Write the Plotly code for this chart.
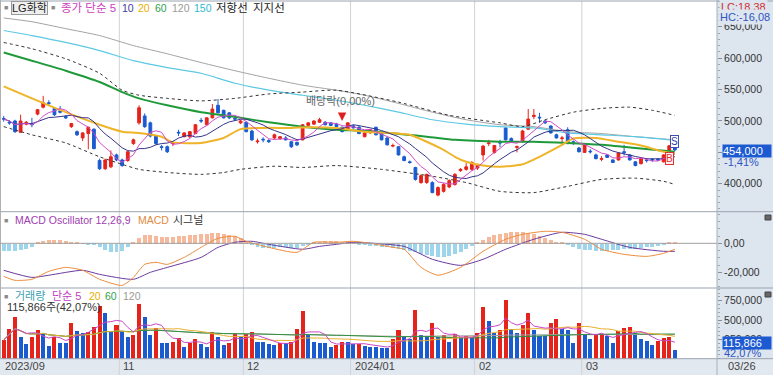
import plotly.graph_objects as go
import pandas as pd

# ---------------- data (prices in thousands of KRW, volumes in thousands of shares) ----------------
dates = [
    "2023-09-26", "2023-09-27", "2023-10-04", "2023-10-05", "2023-10-06", "2023-10-10", "2023-10-11",
    "2023-10-12", "2023-10-13", "2023-10-16", "2023-10-17", "2023-10-18", "2023-10-19", "2023-10-20",
    "2023-10-23", "2023-10-24", "2023-10-25", "2023-10-26", "2023-10-27", "2023-10-30", "2023-10-31",
    "2023-11-01", "2023-11-02", "2023-11-03", "2023-11-06", "2023-11-07", "2023-11-08", "2023-11-09",
    "2023-11-10", "2023-11-13", "2023-11-14", "2023-11-15", "2023-11-16", "2023-11-17", "2023-11-20",
    "2023-11-21", "2023-11-22", "2023-11-23", "2023-11-24", "2023-11-27", "2023-11-28", "2023-11-29",
    "2023-11-30", "2023-12-01", "2023-12-04", "2023-12-05", "2023-12-06", "2023-12-07", "2023-12-08",
    "2023-12-11", "2023-12-12", "2023-12-13", "2023-12-14", "2023-12-15", "2023-12-18", "2023-12-19",
    "2023-12-20", "2023-12-21", "2023-12-22", "2023-12-26", "2023-12-27", "2023-12-28", "2024-01-02",
    "2024-01-03", "2024-01-04", "2024-01-05", "2024-01-08", "2024-01-09", "2024-01-10", "2024-01-11",
    "2024-01-12", "2024-01-15", "2024-01-16", "2024-01-17", "2024-01-18", "2024-01-19", "2024-01-22",
    "2024-01-23", "2024-01-24", "2024-01-25", "2024-01-26", "2024-01-29", "2024-01-30", "2024-01-31",
    "2024-02-01", "2024-02-02", "2024-02-05", "2024-02-06", "2024-02-07", "2024-02-08", "2024-02-13",
    "2024-02-14", "2024-02-15", "2024-02-16", "2024-02-19", "2024-02-20", "2024-02-21", "2024-02-22",
    "2024-02-23", "2024-02-26", "2024-02-27", "2024-02-28", "2024-02-29", "2024-03-04", "2024-03-05",
    "2024-03-06", "2024-03-07", "2024-03-08", "2024-03-11", "2024-03-12", "2024-03-13", "2024-03-14",
    "2024-03-15", "2024-03-18", "2024-03-19", "2024-03-20", "2024-03-21", "2024-03-22", "2024-03-25",
    "2024-03-26",
]

opens = [504, 498, 500, 482, 495, 496, 511, 522, 529, 520, 516, 507, 491, 483, 473, 480, 487, 437, 424, 427, 446,
         438, 437, 464, 497, 508, 497, 476, 459, 459, 464, 482, 475, 475, 480, 501, 494, 505, 525, 517, 513, 504, 497,
         498, 484, 467, 471, 469, 473, 472, 473, 467, 466, 470, 493, 495, 498, 498, 497, 495, 490, 487,
         492, 490, 475, 481, 490, 483, 473, 460, 459, 443, 435, 426, 402, 402, 402, 382, 388, 395, 399, 421, 423, 423,
         425, 446, 464, 450, 466, 489, 472, 458, 467, 487, 507, 506, 500, 492, 478, 472, 486, 467, 457,
         450, 452, 446, 439, 446, 438, 438, 451, 446, 435, 432, 438, 439, 439, 435, 452, 457]
highs = [508, 501, 502, 510, 500, 505, 519, 540, 533, 522, 524, 509, 497, 485, 482, 491, 488, 440, 440, 453, 448,
         440, 452, 472, 525, 512, 499, 478, 462, 461, 468, 486, 482, 484, 495, 505, 506, 527, 535, 518, 514, 508, 502,
         499, 486, 472, 474, 471, 480, 476, 476, 468, 467, 495, 498, 501, 505, 500, 498, 497, 491, 498,
         494, 492, 483, 487, 491, 484, 474, 464, 460, 445, 437, 427, 415, 416, 404, 396, 401, 407, 417, 425, 433, 436,
         432, 462, 470, 462, 470, 490, 474, 461, 486, 519, 519, 513, 502, 493, 480, 476, 490, 469, 459,
         463, 455, 448, 444, 447, 439, 450, 462, 447, 436, 441, 441, 441, 441, 447, 462, 459]
lows = [499, 494, 481, 481, 493, 490, 509, 520, 524, 508, 512, 503, 489, 476, 468, 455, 455, 422, 422, 425, 436,
        427, 435, 462, 494, 489, 474, 462, 453, 449, 460, 476, 474, 473, 479, 497, 493, 504, 512, 504, 503, 500, 495,
        482, 468, 464, 466, 465, 471, 470, 469, 457, 460, 469, 492, 494, 497, 493, 492, 490, 482, 486,
        488, 479, 474, 480, 477, 469, 461, 458, 445, 436, 432, 405, 400, 400, 385, 380, 386, 393, 397, 419, 421, 421,
        422, 437, 460, 448, 458, 469, 467, 450, 466, 486, 503, 497, 495, 480, 472, 465, 463, 462, 450,
        449, 448, 439, 436, 441, 433, 437, 445, 437, 428, 431, 434, 435, 436, 434, 450, 452]
closes = [503, 497, 483, 500, 498, 494, 518, 529, 528, 510, 514, 505, 496, 478, 481, 490, 456, 424, 438, 443, 438,
          429, 451, 470, 521, 491, 476, 464, 458, 451, 465, 481, 481, 483, 494, 500, 505, 519, 513, 505, 505, 503, 500,
          483, 470, 468, 470, 467, 478, 475, 470, 459, 462, 494, 497, 500, 502, 494, 493, 491, 483, 497,
          489, 480, 481, 486, 478, 470, 462, 461, 446, 437, 434, 407, 413, 415, 386, 394, 399, 405, 415, 423, 427, 434,
          430, 460, 465, 461, 465, 470, 468, 459, 484, 503, 509, 505, 497, 481, 473, 473, 464, 464, 451,
          462, 451, 440, 440, 442, 434, 449, 450, 438, 429, 440, 437, 438, 438, 446, 460.5, 454]
volumes = [242, 385, 536, 285, 187, 285, 372, 329, 165, 277, 207, 199, 466, 359, 329, 350, 406, 683, 596, 363, 436,
           350, 285, 307, 708, 544, 307, 394, 207, 203, 220, 272, 155, 207, 251, 187, 155, 350, 285, 177, 207, 337, 277,
           316, 350, 220, 218, 187, 174, 207, 203, 220, 381, 622, 307, 220, 207, 203, 148, 174, 216, 212,
           187, 190, 165, 155, 148, 145, 142, 251, 372, 277, 251, 631, 307, 294, 466, 285, 307, 220, 320, 277, 294, 277,
           329, 674, 492, 329, 372, 760, 381, 337, 436, 588, 372, 294, 290, 459, 510, 381, 372, 207, 459,
           316, 251, 307, 320, 300, 199, 363, 394, 414, 337, 251, 233, 177, 233, 262, 275, 115.866]

# long moving averages / envelope lines (trading-day number -> value, thousands)
ma20_day = [0, 5, 11, 17, 21, 24, 28, 30, 35, 39, 42, 46, 51, 54, 59, 64, 70, 72, 75, 78, 80, 82, 85, 88, 92, 95, 99, 101, 105, 109, 113, 117, 119]
ma20_val = [555, 536, 514, 494, 483, 481, 475, 466, 465, 473, 487, 489, 489, 490, 489, 483, 480, 478, 467, 454, 443, 435, 429, 427, 431, 443, 462, 472, 473, 467, 461, 451, 448]
ma60_day = [0, 5, 11, 17, 21, 24, 29, 35, 39, 42, 47, 53, 59, 64, 75, 80, 88, 94, 100, 106, 112, 119]
ma60_val = [609, 596, 580, 562, 546, 536, 525, 514, 509, 505, 498, 491, 486, 484, 475, 470, 467, 467, 465, 462, 457, 451]
ma120_day = [0, 5, 11, 17, 23, 29, 35, 41, 47, 53, 59, 64, 70, 76, 82, 88, 94, 100, 106, 112, 119]
ma120_val = [664, 658, 647, 636, 620, 607, 593, 580, 568, 557, 549, 541, 528, 514, 502, 494, 491, 483, 480, 475, 470]
ma150_day = [0, 5, 11, 17, 23, 29, 35, 41, 47, 53, 59, 64, 70, 76, 82, 88, 94, 100, 106, 112, 119]
ma150_val = [644, 636, 625, 612, 596, 585, 576, 560, 549, 541, 533, 525, 514, 502, 495, 491, 489, 481, 478, 475, 469]
resist_day = [0, 5, 11, 17, 21, 24, 29, 35, 41, 47, 53, 59, 70, 79, 88, 92, 96, 101, 106, 111, 115, 119]
resist_val = [625, 615, 599, 576, 549, 541, 536, 532, 536, 543, 546, 549, 530, 509, 497, 491, 502, 514, 520, 522, 517, 509]
support_day = [0, 5, 11, 17, 21, 24, 29, 35, 39, 42, 48, 53, 59, 67, 76, 82, 88, 94, 100, 106, 112, 117, 119]
support_val = [491, 478, 465, 443, 431, 423, 418, 415, 418, 423, 428, 426, 429, 423, 412, 402, 388, 386, 396, 407, 409, 404, 399]

# MACD (thousands)
macd_day = [0, 2, 5, 8, 11, 14, 17, 21, 23, 25, 27, 29, 32, 35, 38, 41, 43, 47, 52, 55, 59, 62, 65, 69, 71, 74, 77, 81, 85, 89, 92, 96, 99, 103, 106, 110, 114, 117, 119]
macd_val = [-22.8, -25.5, -24.8, -19.3, -16.6, -18.6, -24.8, -29.0, -23.5, -14.5, -13.1, -14.5, -9.7, -2.8, 3.5, 4.8, 1.4, -2.8, -6.2, 0.7, 0.7, 1.4, 0.0, -2.8, -4.1, -16.6, -22.0, -16.6, -5.5, 2.8, 6.2, 8.3, 7.6, 2.8, -4.1, -7.6, -9.0, -6.9, -4.1]
signal_day = [0, 5, 8, 14, 17, 23, 26, 29, 35, 38, 41, 44, 47, 53, 56, 59, 62, 68, 71, 76, 81, 85, 89, 94, 99, 103, 106, 111, 117, 119]
signal_val = [-18.6, -23.5, -22.0, -18.6, -21.4, -24.8, -20.0, -16.6, -9.7, -2.8, 0.7, 1.4, -0.7, -4.1, -2.1, -0.7, 0.7, -0.7, -2.1, -11.0, -15.2, -11.0, -4.1, 2.8, 7.6, 6.2, 2.8, -2.8, -5.5, -5.5]
oscillator = [-4.8, -4.8, -4.8, -4.1, -3.4, -2.1,
              0.7, 2.1, 2.8, 2.8, 2.8, 2.1, 1.4, 0.7,
              0.3, -0.3, -0.7,
              -2.1, -4.1, -5.5, -5.5, -4.8, -2.1,
              0.7, 4.1, 6.2, 6.2, 5.5, 4.8, 4.8, 4.8, 5.5, 5.5, 6.2, 6.2, 6.9, 6.9,
              7.6, 7.6, 6.9, 6.2, 5.5, 4.1, 2.1,
              -0.7, -2.1, -2.8, -2.8, -2.8, -2.1, -2.1, -2.8, -2.8, -1.4, -0.7,
              0.7, 1.4, 2.1, 2.1, 2.1, 1.4, 1.4, 0.7,
              -0.7, -0.7, -1.4, -1.4, -2.1, -2.1, -2.8, -3.4,
              -4.1, -4.8, -5.5, -6.9, -7.6, -8.3, -9.0, -9.0, -8.3, -6.9, -5.5, -3.4,
              -1.4, 0.7, 2.8, 4.8, 6.2, 6.9, 7.6, 8.3, 8.3, 8.3, 7.6, 6.9, 5.5, 4.1, 2.8, 1.4, 0.7,
              -0.7, -2.1, -3.4, -4.1, -4.1, -4.8, -4.8, -4.8, -4.1, -4.1, -3.4, -3.4, -3.4, -2.8, -2.1, -2.1, -1.4, -0.7,
              0.7, 1.4]

month_starts = ["2023-11-01", "2023-12-01", "2024-01-02", "2024-02-01", "2024-03-04"]
month_labels = ["2023/09", "11", "12", "2024/01", "02", "03"]

# ---------------- derived ----------------
K = 1000
n = len(dates)
xi = list(range(n))
close_s = pd.Series(closes) * K
vol_s = pd.Series(volumes) * K
ma5 = close_s.rolling(5, min_periods=1).mean()
ma10 = close_s.rolling(10, min_periods=1).mean()
vma5 = vol_s.rolling(5, min_periods=1).mean()
vma20 = vol_s.rolling(20, min_periods=1).mean()
vma60 = vol_s.rolling(60, min_periods=1).mean()
vma120 = vol_s.rolling(120, min_periods=1).mean()

RED = "#e5231b"
BLUE = "#1a5bd0"
W, H = 773, 375
PLOT_R = 717
def pxx(x): return x / W
def pyy(y): return 1 - y / H

Y_MAIN = (211.7, 1.0)
Y_MACD = (288.0, 211.7)
Y_VOL = (358.7, 288.0)
FONT = "Liberation Sans, Noto Sans CJK KR, sans-serif"

fig = go.Figure()

def line(days, vals, color, width, dash=None, axis="y"):
    fig.add_trace(go.Scatter(x=days, y=[v * K for v in vals], mode="lines",
                             line=dict(color=color, width=width, dash=dash, shape="spline", smoothing=0.6),
                             hoverinfo="skip", xaxis="x" if axis == "y" else "x" + axis[1:], yaxis=axis))

# envelope & long MAs
line(ma120_day, ma120_val, "#a3a3a3", 1)
line(ma150_day, ma150_val, "#5cc9e2", 1.2)
line(resist_day, resist_val, "#333333", 1, dash="3px,3px")
line(support_day, support_val, "#333333", 1, dash="3px,3px")
line(ma60_day, ma60_val, "#1f9a3a", 2)
line(ma20_day, ma20_val, "#f0b428", 2)
fig.add_trace(go.Scatter(x=xi, y=ma10, mode="lines", line=dict(color="#343488", width=1),
                         hoverinfo="skip", xaxis="x", yaxis="y"))
fig.add_trace(go.Scatter(x=xi, y=ma5, mode="lines", line=dict(color="#d04cc8", width=1),
                         hoverinfo="skip", xaxis="x", yaxis="y"))

fig.add_trace(go.Candlestick(
    x=xi, open=[v * K for v in opens], high=[v * K for v in highs], low=[v * K for v in lows],
    close=[v * K for v in closes],
    increasing=dict(line=dict(color=RED, width=1), fillcolor=RED),
    decreasing=dict(line=dict(color=BLUE, width=1), fillcolor=BLUE),
    whiskerwidth=0, hoverinfo="skip", xaxis="x", yaxis="y"))

# MACD panel
osc_colors = ["#f6b99c" if v >= 0 else "#9dd5ec" for v in oscillator]
fig.add_trace(go.Bar(x=xi, y=[v * K for v in oscillator], marker=dict(color=osc_colors, line=dict(width=0)),
                     width=0.7, hoverinfo="skip", xaxis="x2", yaxis="y2"))
line(signal_day, signal_val, "#6a3a9e", 1, axis="y2")
line(macd_day, macd_val, "#ec8c3c", 1, axis="y2")

# Volume panel
vcolors = [RED] + [RED if volumes[i] >= volumes[i - 1] else BLUE for i in range(1, n)]
fig.add_trace(go.Bar(x=xi, y=vol_s, marker=dict(color=vcolors, line=dict(width=0)), width=0.72,
                     hoverinfo="skip", xaxis="x3", yaxis="y3"))
for s, c in [(vma120, "#a0a0a0"), (vma60, "#2f8f3f"), (vma20, "#e8b030"), (vma5, "#c848c8")]:
    fig.add_trace(go.Scatter(x=xi, y=s, mode="lines", line=dict(color=c, width=1),
                             hoverinfo="skip", xaxis="x3", yaxis="y3"))

# ---------------- layout ----------------
xr = [-3.7 / 5.64, (PLOT_R - 3.7) / 5.64]
xdom = [0, PLOT_R / W]
def ydom(t):
    return [1 - t[0] / H, 1 - t[1] / H]

tickfont = dict(family="Liberation Sans, Arial, sans-serif", size=10.5, color="#333")
common_y = dict(side="right", showgrid=False, zeroline=False, ticks="outside", ticklen=4,
                tickcolor="#8890a0", tickfont=tickfont, showline=False, fixedrange=True, automargin=False)

fig.update_layout(
    width=W, height=H, margin=dict(l=0, r=0, t=0, b=0, autoexpand=False),
    paper_bgcolor="white", plot_bgcolor="white", showlegend=False, bargap=0,
    font=dict(family=FONT),
    xaxis=dict(domain=xdom, range=xr, visible=False, anchor="y", rangeslider=dict(visible=False)),
    xaxis2=dict(domain=xdom, range=xr, visible=False, anchor="y2", matches="x"),
    xaxis3=dict(domain=xdom, range=xr, visible=False, anchor="y3", matches="x"),
    yaxis=dict(domain=ydom(Y_MAIN), range=[355600, 691000], anchor="x",
               tickvals=[400000, 450000, 500000, 550000, 600000, 650000],
               ticktext=["400,000", "", "500,000", "550,000", "600,000", "650,000"],
               minor=dict(ticks="outside", ticklen=2, dtick=10000, tick0=0, tickcolor="#9aa"), **common_y),
    yaxis2=dict(domain=ydom(Y_MACD), range=[-30800, 21800], anchor="x2",
                tickvals=[0, -20000], ticktext=["0,00", "-20,000"],
                minor=dict(ticks="outside", ticklen=2, dtick=5000, tick0=0, tickcolor="#9aa"), **common_y),
    yaxis3=dict(domain=ydom(Y_VOL), range=[0, 916000], anchor="x3",
                tickvals=[250000, 500000, 750000], tickformat=",d",
                minor=dict(ticks="outside", ticklen=2, dtick=50000, tick0=0, tickcolor="#9aa"), **common_y),
)

shapes = []
shapes.append(dict(type="rect", xref="paper", yref="paper", x0=pxx(PLOT_R), x1=1, y0=0, y1=1,
                   fillcolor="#dde5ef", line=dict(width=0), layer="below"))
shapes.append(dict(type="rect", xref="paper", yref="paper", x0=0, x1=1, y0=0, y1=pyy(358.7),
                   fillcolor="#e2e8f0", line=dict(width=0), layer="below"))
for d in month_starts:
    i = dates.index(d)
    shapes.append(dict(type="line", xref="x", yref="paper", x0=i - 0.5, x1=i - 0.5, y0=0, y1=pyy(1),
                       line=dict(color="#d2d2d2", width=1), layer="below"))
for yy in [1.0, 211.7, 288.0, 358.7]:
    shapes.append(dict(type="line", xref="paper", yref="paper", x0=0, x1=1, y0=pyy(yy), y1=pyy(yy),
                       line=dict(color="#9aa3b0", width=1)))
shapes.append(dict(type="line", xref="paper", yref="paper", x0=pxx(PLOT_R), x1=pxx(PLOT_R), y0=0, y1=1,
                   line=dict(color="#a8b0bc", width=1)))
shapes.append(dict(type="line", xref="paper", yref="paper", x0=pxx(0.5), x1=pxx(0.5), y0=pyy(358.7), y1=1,
                   line=dict(color="#b0b0b0", width=1)))
shapes.append(dict(type="line", xref="paper", yref="y2", x0=0, x1=pxx(PLOT_R), y0=0, y1=0,
                   line=dict(color="#a0a0a0", width=1)))
for yy in [217, 294]:
    shapes.append(dict(type="rect", xref="paper", yref="paper", x0=pxx(765), x1=pxx(771),
                       y0=pyy(yy + 3), y1=pyy(yy - 2), fillcolor="#666", line=dict(color="#444", width=1)))
fig.update_layout(shapes=shapes)

ann = []
def txt(x, y, s, color, size=11, **kw):
    d = dict(xref="paper", yref="paper", x=pxx(x), y=pyy(y), text=s, showarrow=False,
             xanchor="left", yanchor="middle", font=dict(size=size, color=color, family=FONT))
    d.update(kw)
    ann.append(d)

# main legend
txt(2, 8, "■", "#8a8a8a", 7)
txt(11, 8, "LG화학", "#222", 11, bgcolor="#efefef", bordercolor="#9a9a9a", borderwidth=1, borderpad=0)
txt(49, 8, "■", "#8a8a8a", 7)
txt(59, 8, "종가 단순 5", "#d040c0", 11.5)
txt(120, 8, "10", "#3a3a9a", 10.5)
txt(136, 8, "20", "#e8b000", 10.5)
txt(153, 8, "60", "#30a050", 10.5)
txt(170, 8, "120", "#9a9a9a", 10.5)
txt(192, 8, "150", "#30b8d0", 10.5)
txt(214, 8, "저항선", "#222", 11.5)
txt(251, 8, "지지선", "#222", 11.5)
# MACD legend
txt(2, 220, "■", "#8a8a8a", 7)
txt(13, 220, "MACD Oscillator 12,26,9", "#a040b0", 10.5)
txt(136, 220, "MACD", "#e08a40", 10.5)
txt(171, 220, "시그널", "#333", 11)
# volume legend
txt(2, 296, "■", "#8a8a8a", 7)
txt(13, 296, "거래량", "#3aa0b0")
txt(50, 296, "단순 5", "#c040c0")
txt(87, 296, "20", "#e8b000", 10.5)
txt(103, 296, "60", "#30a050", 10.5)
txt(121, 296, "120", "#9a9a9a", 10.5)
txt(5, 307, "115,866주(42,07%)", "#333")

# right side info
txt(719, 7, "LC:18,38", "#d03030", 11, bgcolor="#dde5ef")
txt(718, 17.5, "HC:-16,08", "#2f55c0", 11, bgcolor="#dde5ef")
txt(722, 151, "454,000", "white", 11, bgcolor="#1c5ad2", borderpad=0, width=48, align="left")
txt(722, 162, "-1,41%", "#2f55c0", 11)
txt(722, 342.5, "115,866", "white", 11, bgcolor="#1c5ad2", borderpad=0, width=48, align="left")
txt(722, 353, "42,07%", "#2f55c0", 11)
txt(726, 366, "03/26", "#444", 11)

# date band labels
label_days = [0] + [dates.index(d) for d in month_starts]
for lab, i in zip(month_labels, label_days):
    xpos = 3.7 + 5.64 * i - 2.8
    txt(max(xpos, 0) + 2, 366, lab, "#444", 11)

# dividend marker
div_i = dates.index("2023-12-27")
ann.append(dict(xref="x", yref="paper", x=div_i - 0.3, y=pyy(101), text="배당락(0,00%)", showarrow=False,
                font=dict(size=11, color="#666", family=FONT), xanchor="center", yanchor="middle"))
ann.append(dict(xref="x", yref="y", x=div_i, y=500000, ax=div_i, ay=509000, axref="x", ayref="y",
                text="", showarrow=True, arrowhead=2, arrowsize=1.4, arrowwidth=1.2, arrowcolor="#e02020"))
ann.append(dict(xref="x", yref="paper", x=n - 1, y=pyy(141), text="S", showarrow=False,
                font=dict(size=10, color="#3040a0"), bgcolor="white", bordercolor="#4050b0",
                borderwidth=1, borderpad=0, xanchor="center", yanchor="middle"))
ann.append(dict(xref="x", yref="paper", x=n - 2, y=pyy(159), text="B", showarrow=False,
                font=dict(size=10, color="#e03030"), bgcolor="#fff4f4", bordercolor="#e03030",
                borderwidth=1, borderpad=0, xanchor="center", yanchor="middle"))
fig.update_layout(annotations=ann)

fig.write_html("out.html", config={"displayModeBar": False},
               post_script="document.body.style.margin='0';document.body.style.overflow='hidden';")
